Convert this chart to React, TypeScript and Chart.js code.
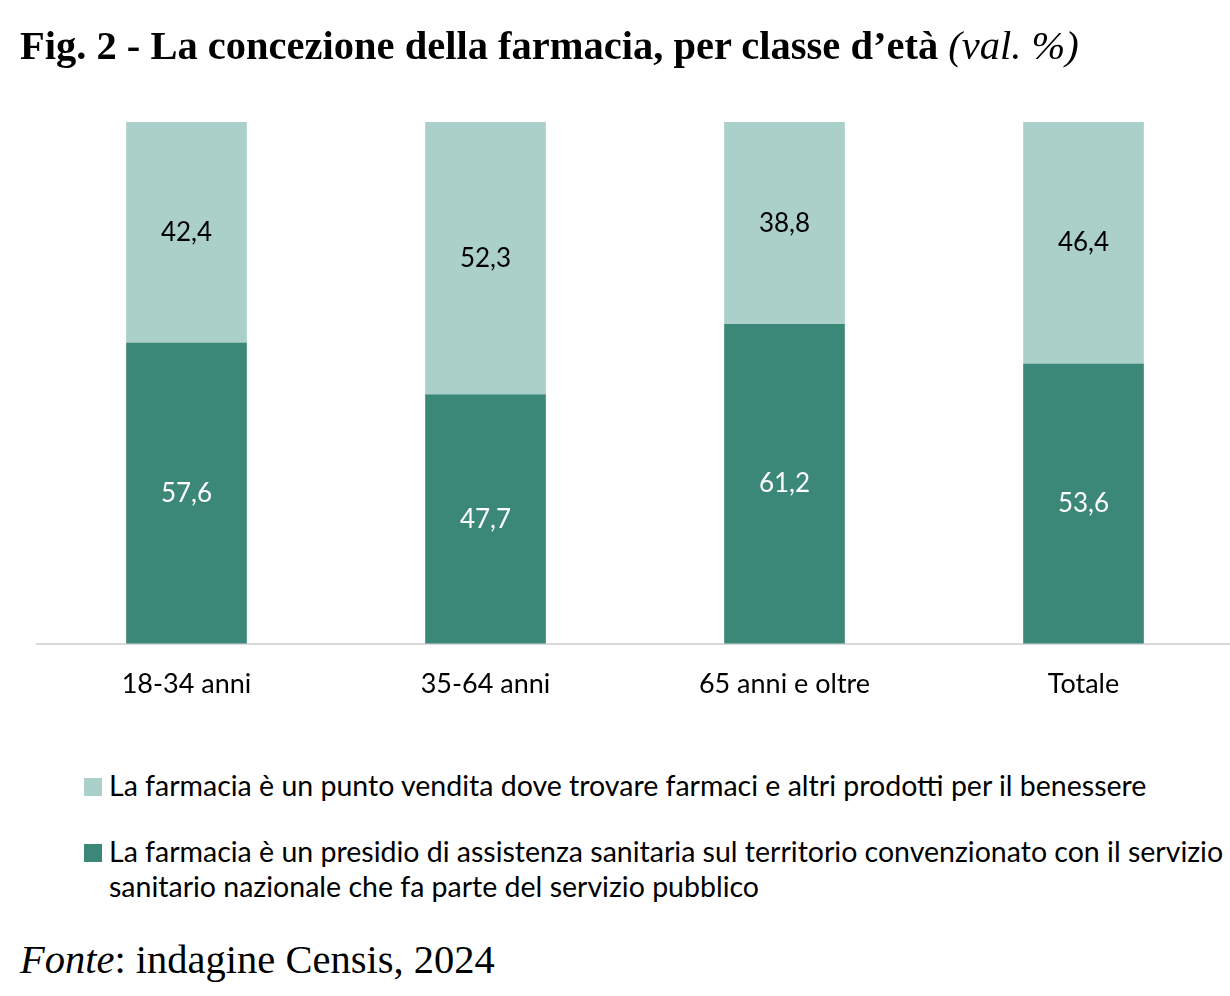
import React, { useEffect, useRef } from "react";
import { Chart, registerables } from "chart.js";

Chart.register(...registerables);

const categories = ["18-34 anni", "35-64 anni", "65 anni e oltre", "Totale"];
const presidioValues = [57.6, 47.7, 61.2, 53.6];
const puntoVenditaValues = [42.4, 52.3, 38.8, 46.4];
const legendPunto = "La farmacia è un punto vendita dove trovare farmaci e altri prodotti per il benessere";
const legendPresidio =
  "La farmacia è un presidio di assistenza sanitaria sul territorio convenzionato con il servizio sanitario nazionale che fa parte del servizio pubblico";

const DARK = "#3B8778";
const LIGHT = "#ABD0CA";
const SANS = "Lato, 'Noto Sans', sans-serif";
const SERIF = "'Liberation Serif', 'Times New Roman', serif";

const fmt = (v: number) => v.toFixed(1).replace(".", ",");

const labelPlugin = {
  id: "barLabels",
  afterDatasetsDraw(chart: any) {
    const ctx = chart.ctx;
    ctx.save();
    ctx.font = `26px ${SANS}`;
    ctx.textAlign = "center";
    ctx.textBaseline = "middle";
    chart.data.datasets.forEach((ds: any, i: number) => {
      const meta = chart.getDatasetMeta(i);
      meta.data.forEach((el: any, j: number) => {
        const p = el.getCenterPoint();
        ctx.fillStyle = ds.labelColor;
        ctx.fillText(fmt(ds.data[j]), p.x, p.y);
      });
    });
    ctx.restore();
  },
};

export default function App() {
  const ref = useRef<HTMLCanvasElement | null>(null);
  useEffect(() => {
    document.body.style.margin = "0";
    const chart = new Chart(ref.current as HTMLCanvasElement, {
      type: "bar",
      data: {
        labels: categories,
        datasets: [
          { label: legendPresidio, data: presidioValues, backgroundColor: DARK, labelColor: "#FFFFFF" } as any,
          { label: legendPunto, data: puntoVenditaValues, backgroundColor: LIGHT, labelColor: "#000000" } as any,
        ],
      },
      options: {
        animation: false,
        responsive: false,
        maintainAspectRatio: false,
        layout: { padding: { left: 37, right: 7, top: 122, bottom: 0 } },
        plugins: { legend: { display: false }, tooltip: { enabled: false }, title: { display: false } },
        datasets: { bar: { barThickness: 120 } } as any,
        scales: {
          x: {
            stacked: true,
            grid: { display: false, drawTicks: false },
            border: { display: true, color: "#D9D9D9", width: 2 },
            ticks: { color: "#000000", font: { family: SANS, size: 27 }, padding: 24 },
          },
          y: {
            stacked: true,
            display: false,
            min: 0,
            max: 100,
          },
        },
      },
      plugins: [labelPlugin],
    });
    return () => chart.destroy();
  }, []);

  const legendRow = (color: string, text: string, top: number) => (
    <div style={{ position: "absolute", left: 84, top, width: 1140, display: "flex", alignItems: "flex-start" }}>
      <div style={{ width: 18, height: 18, background: color, marginTop: 10, marginRight: 7, flex: "0 0 auto" }} />
      <div style={{ fontFamily: SANS, fontSize: 28.5, lineHeight: "35px", color: "#000" }}>{text}</div>
    </div>
  );

  return (
    <div style={{ position: "relative", width: 1230, height: 996, background: "#fff", overflow: "hidden" }}>
      <canvas ref={ref} width={1240} height={724} style={{ position: "absolute", left: 0, top: 0, width: 1240, height: 724 }} />
      <div
        style={{
          position: "absolute",
          left: 20,
          top: 26,
          fontFamily: SERIF,
          fontSize: 40.5,
          lineHeight: "40px",
          fontWeight: "bold",
          color: "#000",
          whiteSpace: "nowrap",
        }}
      >
        Fig. 2 - La concezione della farmacia, per classe d’età <span style={{ fontWeight: "normal", fontStyle: "italic" }}>(val. %)</span>
      </div>
      {legendRow(LIGHT, legendPunto, 768)}
      {legendRow(DARK, legendPresidio, 834)}
      <div
        style={{
          position: "absolute",
          left: 20,
          top: 940,
          fontFamily: SERIF,
          fontSize: 40.5,
          lineHeight: "40px",
          color: "#000",
          whiteSpace: "nowrap",
        }}
      >
        <span style={{ fontStyle: "italic" }}>Fonte</span>: indagine Censis, 2024
      </div>
    </div>
  );
}
